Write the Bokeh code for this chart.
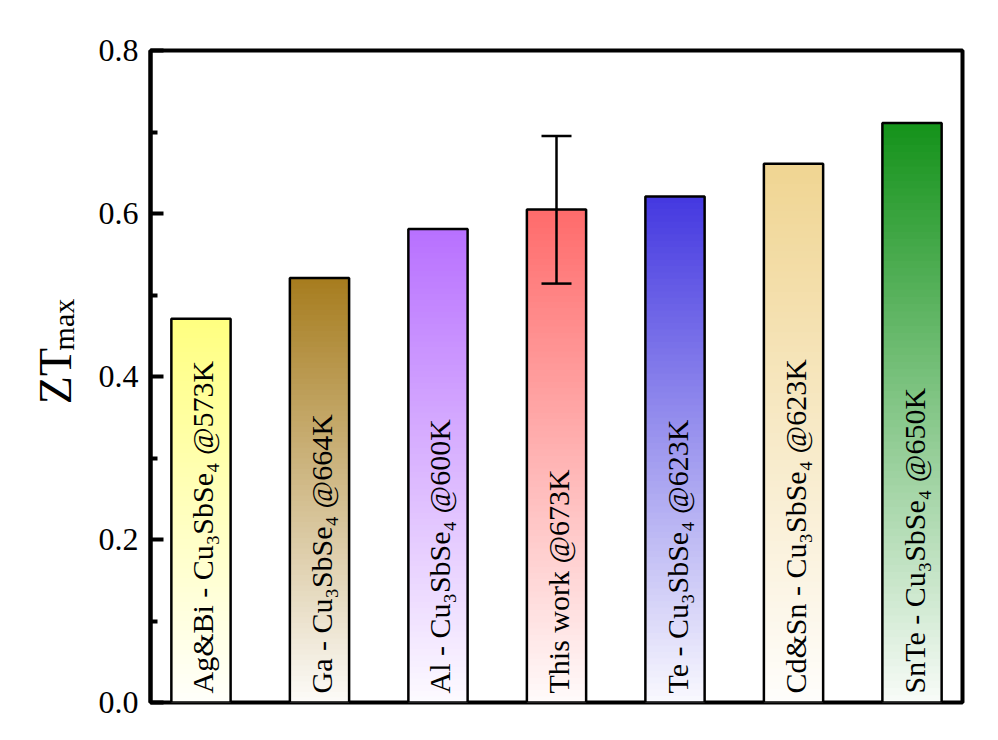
import numpy as np
from bokeh.plotting import figure
from bokeh.models import (Range1d, FixedTicker, PrintfTickFormatter, Label,
                          Whisker, TeeHead, ColumnDataSource)
from bokeh.core.properties import value
from bokeh.embed import file_html
from bokeh.resources import INLINE

# ---------------- data ----------------
bar_labels = [
    "Ag&Bi - Cu₃SbSe₄ @573K",
    "Ga - Cu₃SbSe₄ @664K",
    "Al - Cu₃SbSe₄ @600K",
    "This work @673K",
    "Te - Cu₃SbSe₄ @623K",
    "Cd&Sn - Cu₃SbSe₄ @623K",
    "SnTe - Cu₃SbSe₄ @650K",
]
zt_max = [0.471, 0.521, 0.581, 0.605, 0.621, 0.661, 0.711]
top_colors = ["#FFFF80", "#A67C1E", "#B870FF", "#FF6B6B", "#4438E0", "#F0D592", "#14921A"]
err_bar_index = 3
err_upper = [0.695]
err_lower = [0.514]
y_ticks = [0.0, 0.2, 0.4, 0.6, 0.8]
y_minor_ticks = [0.1, 0.3, 0.5, 0.7]

FONT = "Liberation Serif"

# ---------------- figure ----------------
p = figure(width=980, height=720, output_backend="svg", toolbar_location=None,
           x_range=Range1d(0.574, 7.426), y_range=Range1d(0.0, 0.8),
           min_border_left=150, min_border_right=18, min_border_top=50,
           min_border_bottom=18)
p.background_fill_color = "white"
p.border_fill_color = "white"
p.outline_line_color = "black"
p.outline_line_width = 4
p.xgrid.visible = False
p.ygrid.visible = False
p.xaxis.visible = False

ax = p.yaxis[0]
ax.ticker = FixedTicker(ticks=y_ticks, minor_ticks=y_minor_ticks)
ax.formatter = PrintfTickFormatter(format="%.1f")
ax.axis_line_width = 4
ax.axis_line_color = "black"
ax.major_tick_in = 13
ax.major_tick_out = 0
ax.minor_tick_in = 7
ax.minor_tick_out = 0
ax.major_tick_line_width = 4
ax.minor_tick_line_width = 4
ax.major_label_text_font = FONT
ax.major_label_text_font_size = "32px"
ax.major_label_text_color = "black"
ax.major_label_standoff = 12

# ---------------- gradient bars ----------------
def blend(hex_color, t):
    r = int(hex_color[1:3], 16)
    g = int(hex_color[3:5], 16)
    b = int(hex_color[5:7], 16)
    rr = round(255 + (r - 255) * t)
    gg = round(255 + (g - 255) * t)
    bb = round(255 + (b - 255) * t)
    return "#%02x%02x%02x" % (rr, gg, bb)

n_slices = 80
half_w = 0.25
xs = np.arange(1, len(zt_max) + 1)
L, R, B, T, C = [], [], [], [], []
for xi, v, col in zip(xs, zt_max, top_colors):
    for k in range(n_slices):
        bot = v * k / n_slices
        top = min(v, v * (k + 1.6) / n_slices)
        t = 0.03 + 0.97 * (k + 0.5) / n_slices
        L.append(xi - half_w); R.append(xi + half_w)
        B.append(bot); T.append(top); C.append(blend(col, t))
p.quad(left=L, right=R, bottom=B, top=T, fill_color=C, line_color=None)

bars = ColumnDataSource(dict(x=xs, top=zt_max))
p.vbar(x="x", top="top", bottom=0, width=2 * half_w, source=bars,
       fill_color=None, line_color="black", line_width=2.5)

# ---------------- error bar ----------------
err_src = ColumnDataSource(dict(x=[xs[err_bar_index]], upper=err_upper, lower=err_lower))
wh = Whisker(base="x", upper="upper", lower="lower", source=err_src,
             dimension="height", line_width=2.5, line_color="black", level="overlay",
             upper_head=TeeHead(size=30, line_width=2.5, line_color="black"),
             lower_head=TeeHead(size=30, line_width=2.5, line_color="black"))
p.add_layout(wh)

# ---------------- bar labels ----------------
lab_src = ColumnDataSource(dict(x=xs, y=[0.011] * len(xs), text=bar_labels))
p.text(x="x", y="y", text="text", source=lab_src, angle=np.pi / 2,
       text_align="left", text_baseline="middle", text_color="black",
       text_font=value(FONT), text_font_size="30px", x_offset=2)

# ---------------- y axis title ZT_max ----------------
p.add_layout(Label(x=-0.228, y=0.366, text="ZT", angle=np.pi / 2,
                   text_align="left", text_baseline="alphabetic",
                   text_font=FONT, text_font_size="46px", text_color="black"), "left")
p.add_layout(Label(x=-0.161, y=0.432, text="max", angle=np.pi / 2,
                   text_align="left", text_baseline="alphabetic",
                   text_font=FONT, text_font_size="30px", text_color="black"), "left")

open("out.html", "w").write(file_html(p, INLINE))
